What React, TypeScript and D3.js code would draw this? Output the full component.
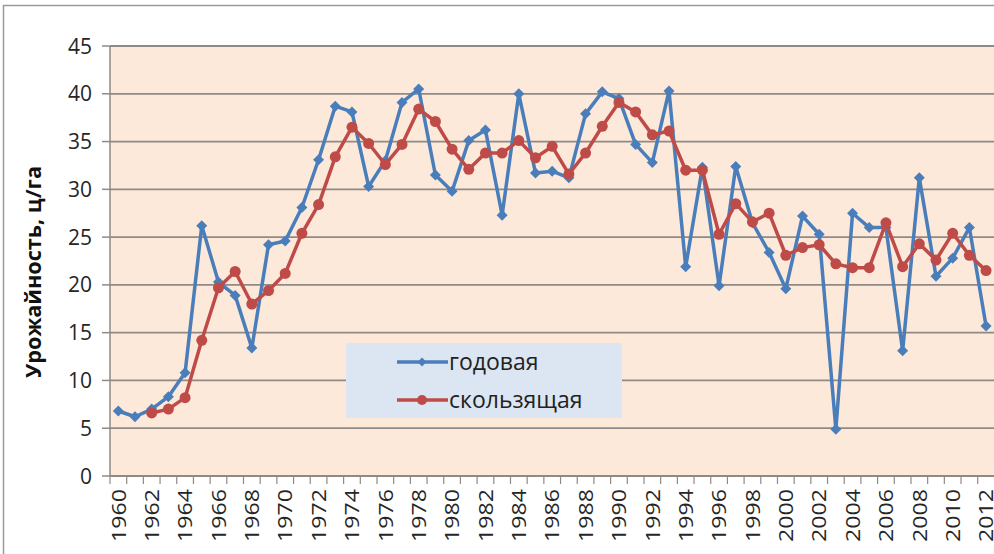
import React from "react";
import { scaleLinear, scaleBand, line } from "d3";

const years: number[] = [];
for (let y = 1960; y <= 2012; y++) years.push(y);

const annual = [
  6.8, 6.2, 7.0, 8.3, 10.8, 26.2, 20.3, 18.9, 13.4, 24.2, 24.6, 28.1, 33.1, 38.7, 38.1, 30.3, 33.0, 39.1, 40.5, 31.5,
  29.8, 35.1, 36.2, 27.3, 40.0, 31.7, 31.9, 31.2, 37.9, 40.2, 39.5, 34.7, 32.8, 40.3, 21.9, 32.3, 19.9, 32.4, 26.5, 23.4,
  19.6, 27.2, 25.3, 4.9, 27.5, 26.0, 26.0, 13.1, 31.2, 20.9, 22.8, 26.0, 15.7,
];

// moving average starts at 1962
const moving: (number | null)[] = [
  null, null, 6.6, 7.0, 8.2, 14.2, 19.7, 21.4, 18.0, 19.4, 21.2, 25.4, 28.4, 33.4, 36.5, 34.8, 32.6, 34.7, 38.4, 37.1,
  34.2, 32.1, 33.8, 33.8, 35.1, 33.3, 34.5, 31.6, 33.8, 36.6, 39.1, 38.1, 35.7, 36.1, 32.0, 32.0, 25.3, 28.5, 26.6, 27.5,
  23.1, 23.9, 24.2, 22.2, 21.8, 21.8, 26.5, 21.9, 24.3, 22.6, 25.4, 23.1, 21.5,
];

const yTicks = [0, 5, 10, 15, 20, 25, 30, 35, 40, 45];
const seriesNames = ["годовая", "скользящая"];

const BLUE = "#4A7EBB";
const RED = "#BE4B48";
const FONT = "Open Sans, Liberation Sans, sans-serif";

export default function App() {
  const left = 110, right = 994.4, top = 46, bottom = 476;
  const x = scaleBand<number>().domain(years).range([left, right]);
  const y = scaleLinear().domain([0, 45]).range([bottom, top]);
  const cx = (yr: number) => (x(yr) as number) + x.bandwidth() / 2;

  const annualLine = line<number>()
    .x((_, i) => cx(years[i]))
    .y((d) => y(d));
  const movingPts = moving
    .map((v, i) => ({ yr: years[i], v }))
    .filter((d) => d.v !== null) as { yr: number; v: number }[];
  const movingLine = line<{ yr: number; v: number }>()
    .x((d) => cx(d.yr))
    .y((d) => y(d.v));

  const diamond = (px: number, py: number, s: number) =>
    `M${px},${py - s}L${px + s},${py}L${px},${py + s}L${px - s},${py}Z`;

  return (
    <svg width={994} height={554} style={{ position: "absolute", left: 0, top: 0, background: "#fff" }}>
      <rect x={3.5} y={5.5} width={1000} height={560} fill="#fff" stroke="#9a9a9a" strokeWidth={1.5} />
      <rect x={left} y={top} width={right - left} height={bottom - top} fill="#FCE9DA" />
      {yTicks.map((t) => (
        <g key={t}>
          {t > 0 && <line x1={left} x2={right} y1={y(t)} y2={y(t)} stroke="#8f8a86" strokeWidth={1.8} />}
          <line x1={102} x2={left} y1={y(t)} y2={y(t)} stroke="#8f8a86" strokeWidth={1.5} />
          <text x={92} y={y(t)} dy="0.36em" textAnchor="end" fontFamily={FONT} fontSize={21} fill="#262626">
            {t}
          </text>
        </g>
      ))}
      <line x1={left} x2={left} y1={top} y2={bottom} stroke="#8f8a86" strokeWidth={1.5} />
      <line x1={left} x2={right} y1={bottom} y2={bottom} stroke="#8f8a86" strokeWidth={1.8} />
      {years.map((yr) => (
        <line key={"t" + yr} x1={x(yr) as number} x2={x(yr) as number} y1={bottom} y2={bottom + 8} stroke="#8f8a86" strokeWidth={1.2} />
      ))}
      {years
        .filter((yr) => yr % 2 === 0)
        .map((yr) => (
          <text
            key={"l" + yr}
            transform={`translate(${cx(yr)},${bottom + 13}) rotate(-90)`}
            textAnchor="end"
            dy="0.36em"
            fontFamily={FONT}
            fontSize={20}
            textLength={53}
            lengthAdjust="spacingAndGlyphs"
            fill="#262626"
          >
            {yr}
          </text>
        ))}
      <text
        transform={`translate(34,272) rotate(-90)`}
        textAnchor="middle"
        dy="0.35em"
        fontFamily={FONT}
        fontWeight="bold"
        fontSize={21}
        textLength={212}
        lengthAdjust="spacingAndGlyphs"
        fill="#111"
      >
        Урожайность, ц/га
      </text>

      <path d={annualLine(annual) || ""} fill="none" stroke={BLUE} strokeWidth={3.5} strokeLinejoin="round" />
      {annual.map((v, i) => (
        <path key={"d" + i} d={diamond(cx(years[i]), y(v), 5.5)} fill={BLUE} />
      ))}
      <path d={movingLine(movingPts) || ""} fill="none" stroke={RED} strokeWidth={3.5} strokeLinejoin="round" />
      {movingPts.map((d) => (
        <circle key={"c" + d.yr} cx={cx(d.yr)} cy={y(d.v)} r={5.5} fill={RED} />
      ))}

      <rect x={346} y={343} width={276} height={75} fill="#DCE6F2" />
      {seriesNames.map((name, i) => {
        const ly = 362 + i * 38;
        const col = i === 0 ? BLUE : RED;
        return (
          <g key={name}>
            <line x1={397} x2={448} y1={ly} y2={ly} stroke={col} strokeWidth={3.5} />
            {i === 0 ? <path d={diamond(422, ly, 4.5)} fill={col} /> : <circle cx={422} cy={ly} r={5} fill={col} />}
            <text x={449} y={ly} dy="0.33em" fontFamily={FONT} fontSize={23} fill="#222">
              {name}
            </text>
          </g>
        );
      })}
    </svg>
  );
}
